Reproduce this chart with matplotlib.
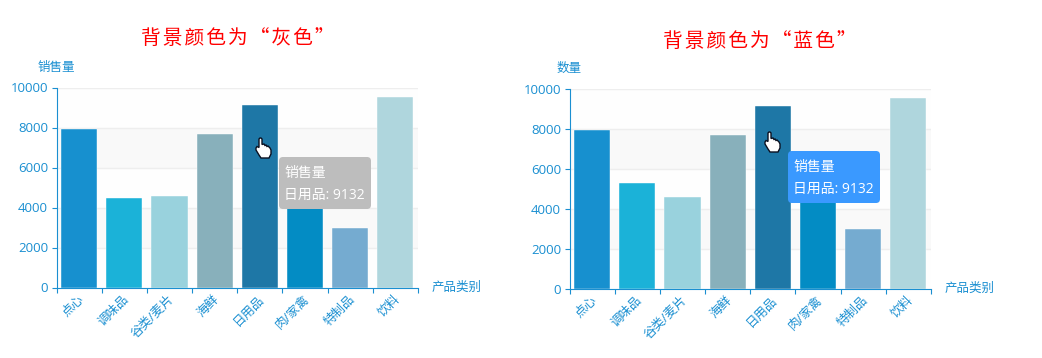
import matplotlib
matplotlib.use('Agg')
import matplotlib.pyplot as plt
from matplotlib.patches import FancyBboxPatch, Polygon

plt.rcParams['font.family'] = ['Open Sans', 'Noto Sans CJK SC', 'DejaVu Sans']

W, H = 1042, 358
BLUE = '#1a8fd1'
TITLE_FONT = ['Noto Sans CJK SC', 'DejaVu Sans']

categories = ['点心', '调味品', '谷类/麦片', '海鲜', '日用品', '肉/家禽', '特制品', '饮料']
values_gray = [7950, 4500, 4560, 7700, 9132, 4800, 3000, 9550]
values_blue = [7950, 5300, 4560, 7700, 9132, 4800, 3000, 9550]
bar_colors = ['#1790cf', '#1bb2d8', '#99d2dd', '#88b0bb', '#1e77a6', '#038cc4', '#75abd0', '#afd6dd']
y_ticks = [0, 2000, 4000, 6000, 8000, 10000]

# cursor outline in pixels, relative to its top left corner
hand = [(0, 10), (1, 8.5), (3, 9.5), (3, 1), (4, 0), (5, 0), (6, 1), (6, 6.5), (8, 6), (9, 7.5), (10, 7), (11, 8.5),
        (12, 8), (14, 10), (15, 12), (15, 16), (13, 20), (5, 20), (3, 17), (0, 12)]


def px(x, y):
    return x / W, 1 - y / H


def spaced(text):
    # the titles have letter spacing, hair spaces are the closest thing here
    return '\u200a'.join(text)


def draw_panel(left, bottom, title, title_x, title_y, ylabel, ylabel_x, ylabel_y, xlabel_x,
               values, tip, tip_color, hand_xy):
    width, height = 361.5, 200
    ax = fig.add_axes([left / W, 1 - bottom / H, width / W, height / H])
    ax.set_xlim(0, len(categories))
    ax.set_ylim(0, 10000)
    ax.set_facecolor('white')

    # every second band is shaded, echarts splitArea style
    for i, low in enumerate(y_ticks[:-1]):
        ax.axhspan(low, low + 2000, color='#f9f9f9' if i % 2 else '#fefefe', lw=0, zorder=0)
    for t in y_ticks[1:]:
        ax.axhline(t, color='#eeeeee', lw=1, zorder=1)

    ax.bar([i + 0.5 for i in range(len(values))], values, width=0.8, color=bar_colors,
           edgecolor='white', linewidth=0.3, zorder=2)

    for s in ['top', 'right']:
        ax.spines[s].set_visible(False)
    for s in ['left', 'bottom']:
        ax.spines[s].set_color(BLUE)
        ax.spines[s].set_linewidth(0.8)

    ax.set_yticks(y_ticks)
    ax.set_yticklabels([str(t) for t in y_ticks], fontsize=9.5, color=BLUE)
    ax.set_xticks(range(len(categories) + 1))
    ax.set_xticklabels([])
    ax.tick_params(axis='both', color=BLUE, length=3.6, width=0.8, pad=2.5)

    # rotated labels anchored on their top right corner under the band centre
    for i, name in enumerate(categories):
        ax.annotate(name, (i + 0.5, 0), xytext=(-1.5, -3.5), textcoords='offset points', rotation=45,
                    rotation_mode='anchor', ha='right', va='top', fontsize=9, color=BLUE,
                    annotation_clip=False)

    fig.text(*px(title_x, title_y), spaced(title), color='red', fontsize=14.2, ha='center', va='center',
             family=TITLE_FONT)
    fig.text(*px(ylabel_x, ylabel_y), ylabel, color=BLUE, fontsize=9, ha='center', va='center')
    fig.text(*px(xlabel_x, bottom), '产品类别', color=BLUE, fontsize=9, ha='center', va='center')

    # tooltip, drawn in pixels on the overlay
    tx, ty, tw, th = tip
    overlay.add_patch(FancyBboxPatch((tx + 4, ty + 4), tw - 8, th - 8, boxstyle='round,pad=4,rounding_size=4',
                                     fc=tip_color, ec='none'))
    overlay.text(tx + 5, ty + 17, '销售量', color='white', fontsize=10, va='center')
    overlay.text(tx + 5, ty + 38, '日用品: 9132', color='white', fontsize=10, va='center')

    hx, hy = hand_xy
    overlay.add_patch(Polygon([(hx + a, hy + b) for a, b in hand], closed=True, fc='white', ec='#0a1020', lw=1))


fig = plt.figure(figsize=(W / 100, H / 100), dpi=100, facecolor='white')
overlay = fig.add_axes([0, 0, 1, 1], zorder=10)
overlay.set_xlim(0, W)
overlay.set_ylim(H, 0)
overlay.axis('off')

draw_panel(56.5, 287.5, '背景颜色为“灰色”', 238, 38, '销售量', 56, 67, 457, values_gray,
           (279, 157, 92, 52), '#bdbdbd', (256, 138))
draw_panel(569.5, 288.5, '背景颜色为“蓝色”', 760, 41, '数量', 569, 68, 970, values_blue,
           (788, 151, 92, 52), '#3a99ff', (765, 132))

fig.savefig('out.png', dpi=100)
